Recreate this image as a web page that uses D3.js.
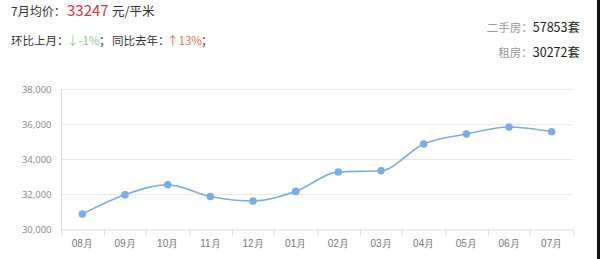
<!DOCTYPE html>
<html><head><meta charset="utf-8">
<script src="https://cdn.jsdelivr.net/npm/d3@7/dist/d3.min.js"></script>
<style>
html,body{margin:0;padding:0;background:#fff;}
svg{display:block;font-family:"Noto Sans CJK SC","Noto Sans",sans-serif;}
</style></head>
<body><svg id="c" width="600" height="259"></svg>
<script>
const months = ["08月","09月","10月","11月","12月","01月","02月","03月","04月","05月","06月","07月"];
const prices = [30860,31960,32530,31860,31600,32150,33260,33330,34860,35430,35830,35560];
const yTicks = [30000,32000,34000,36000,38000];
const avgPrice = "33247";
const momChange = "-1%";
const yoyChange = "13%";
const secondHand = "57853";
const rental = "30272";

const svg = d3.select("#c");
const W = 600, H = 259;
const m = {left:61, right:573, top:89, bottom:229};

const x = d3.scaleBand().domain(months).range([m.left, m.right]).padding(0);
const y = d3.scaleLinear().domain([30000,38000]).range([m.bottom, m.top]);

// header texts
const t1 = svg.append("text").attr("y",16);
t1.append("tspan").attr("x",11).attr("fill","#333").attr("font-size",12).text("7月均价：");
t1.append("tspan").attr("x",67).attr("fill","#d23a3f").attr("font-size",15).text(avgPrice);
t1.append("tspan").attr("x",112).attr("fill","#333").attr("font-size",12.5).text("元/平米");

const t2 = svg.append("text").attr("y",45).attr("font-size",11.5);
t2.append("tspan").attr("x",11).attr("fill","#333").text("环比上月：");
t2.append("tspan").attr("x",67).attr("fill","#92c98c").text("↓" + momChange);
t2.append("tspan").attr("x",99).attr("fill","#333").text("；");
t2.append("tspan").attr("x",112).attr("fill","#333").text("同比去年：");
t2.append("tspan").attr("x",167).attr("fill","#e0704e").text("↑" + yoyChange);
t2.append("tspan").attr("x",201).attr("fill","#333").text("；");

const r1 = svg.append("text").attr("x",580).attr("y",32).attr("text-anchor","end").attr("font-size",11.5);
r1.append("tspan").attr("fill","#999").text("二手房：");
r1.append("tspan").attr("fill","#222").attr("font-size",12.5).text(secondHand + "套");
const r2 = svg.append("text").attr("x",580).attr("y",57).attr("text-anchor","end").attr("font-size",11.5);
r2.append("tspan").attr("fill","#999").text("租房：");
r2.append("tspan").attr("fill","#222").attr("font-size",12.5).text(rental + "套");

// gridlines
svg.append("g").selectAll("line").data(yTicks.filter(d=>d>30000)).join("line")
  .attr("x1",m.left).attr("x2",m.right)
  .attr("y1",d=>Math.round(y(d))+0.5).attr("y2",d=>Math.round(y(d))+0.5)
  .attr("stroke","#e8e8e8");

// y axis
const ya = svg.append("g").attr("transform",`translate(${m.left+0.5},0)`)
  .call(d3.axisLeft(y).tickValues(yTicks).tickSize(0).tickPadding(10).tickFormat(d3.format(",")));
ya.select(".domain").attr("stroke","#ddd").attr("d",`M0,${m.top}V${m.bottom+6}`);
ya.selectAll("text").attr("fill","#888").attr("font-size",9.5).attr("font-family","'Open Sans','Noto Sans',sans-serif");

// x axis
const xa = svg.append("g").attr("transform",`translate(0,${m.bottom+0.5})`)
  .call(d3.axisBottom(x).tickSize(0).tickPadding(10));
xa.select(".domain").attr("stroke","#ddd");
xa.selectAll("text").attr("fill","#777").attr("font-size",10);
// boundary ticks
const bounds = months.map(d=>x(d)).concat([m.right]);
xa.append("g").selectAll("line").data(bounds).join("line")
  .attr("x1",d=>Math.round(d)+0.5).attr("x2",d=>Math.round(d)+0.5)
  .attr("y1",0).attr("y2",6).attr("stroke","#ddd");

// line
const cx = d => x(d) + x.bandwidth()/2;
const line = d3.line().x((d,i)=>cx(months[i])).y(d=>y(d)).curve(d3.curveMonotoneX);
svg.append("path").datum(prices).attr("d",line).attr("fill","none")
  .attr("stroke","#7fafdc").attr("stroke-width",1.6);
svg.append("g").selectAll("circle").data(prices).join("circle")
  .attr("cx",(d,i)=>cx(months[i])).attr("cy",d=>y(d)).attr("r",3.8)
  .attr("fill","#78ade6");

// right black edge
svg.append("rect").attr("x",597).attr("y",0).attr("width",3).attr("height",H).attr("fill","#111");
</script></body></html>
